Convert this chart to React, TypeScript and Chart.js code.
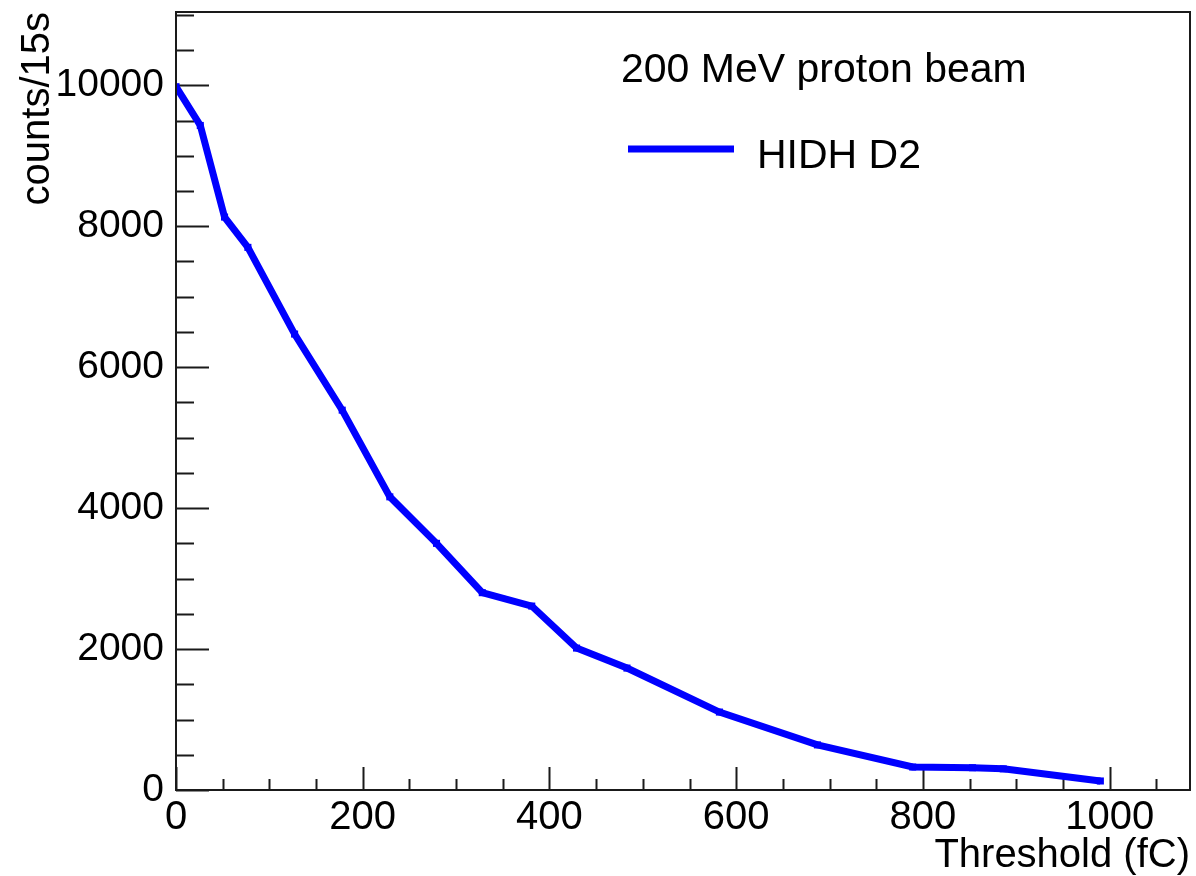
import React, { useEffect, useRef } from "react";
import { Chart, registerables } from "chart.js";

Chart.register(...registerables);

// ---- data ----
const thresholds = [0, 26, 52, 77, 127, 178, 229, 279, 328, 381, 429, 483, 582, 687, 789, 853, 886, 990];
const counts = [9980, 9430, 8130, 7700, 6470, 5390, 4160, 3500, 2800, 2610, 2014, 1730, 1106, 640, 326, 316, 300, 128];

const xMajorTicks = [0, 200, 400, 600, 800, 1000];
const yMajorTicks = [0, 2000, 4000, 6000, 8000, 10000];
const xMinorStep = 50;
const yMinorStep = 500;
const xMax = 1086;
const yMax = 11040;

const headerText = "200 MeV proton beam";
const seriesLabel = "HIDH D2";
const xTitle = "Threshold (fC)";
const yTitle = "counts/15s";

const FONT = "'Liberation Sans', Arial, Helvetica, sans-serif";
const BLUE = "#0000ff";

const rootStylePlugin = {
  id: "rootStyle",
  beforeDatasetsDraw(chart: any) {
    const { ctx, chartArea, scales } = chart;
    const xs = scales.x;
    const ys = scales.y;
    ctx.save();
    ctx.strokeStyle = "#1a1a1a";
    ctx.lineWidth = 2;
    ctx.beginPath();
    for (let v = 0; v <= xs.max + 1e-6; v += xMinorStep) {
      const px = Math.round(xs.getPixelForValue(v)) + 0.5;
      const major = xMajorTicks.includes(v);
      const len = major ? 23 : 11;
      ctx.moveTo(px, chartArea.bottom);
      ctx.lineTo(px, chartArea.bottom - len);
    }
    for (let v = 0; v <= ys.max + 1e-6; v += yMinorStep) {
      const py = Math.round(ys.getPixelForValue(v)) + 0.5;
      const major = yMajorTicks.includes(v);
      const len = major ? 33 : 18;
      ctx.moveTo(chartArea.left, py);
      ctx.lineTo(chartArea.left + len, py);
    }
    ctx.stroke();
    ctx.restore();
  },
  afterDraw(chart: any) {
    const { ctx, chartArea } = chart;
    ctx.save();
    ctx.strokeStyle = "#1a1a1a";
    ctx.lineWidth = 2;
    ctx.strokeRect(chartArea.left, chartArea.top, chartArea.right - chartArea.left, chartArea.bottom - chartArea.top);
    ctx.fillStyle = "#000";
    ctx.textBaseline = "alphabetic";
    ctx.textAlign = "left";
    ctx.font = `41px ${FONT}`;
    ctx.fillText(headerText, 621, 82);
    ctx.fillText(seriesLabel, 757, 168);
    ctx.strokeStyle = BLUE;
    ctx.lineWidth = 7;
    ctx.beginPath();
    ctx.moveTo(628, 149);
    ctx.lineTo(734, 149);
    ctx.stroke();
    ctx.restore();
  },
};

export default function App() {
  const canvasRef = useRef<HTMLCanvasElement | null>(null);

  useEffect(() => {
    document.body.style.margin = "0";
    const canvas = canvasRef.current;
    if (!canvas) return;
    const chart = new Chart(canvas, {
      type: "line",
      data: {
        datasets: [
          {
            label: seriesLabel,
            data: thresholds.map((x, i) => ({ x, y: counts[i] })),
            borderColor: BLUE,
            backgroundColor: BLUE,
            borderWidth: 7,
            pointRadius: 5,
            pointStyle: "rect",
            pointBorderWidth: 0,
            pointBackgroundColor: BLUE,
            tension: 0,
            fill: false,
          },
        ],
      },
      options: {
        animation: false,
        responsive: false,
        maintainAspectRatio: false,
        layout: { padding: { top: 12, right: 6, left: 0, bottom: 0 } },
        plugins: {
          legend: { display: false },
          tooltip: { enabled: false },
          title: { display: false },
        },
        scales: {
          x: {
            type: "linear",
            position: "bottom",
            min: 0,
            max: xMax,
            grid: { display: false },
            border: { display: false },
            afterBuildTicks: (s: any) => {
              s.ticks = xMajorTicks.map((v) => ({ value: v }));
            },
            ticks: {
              autoSkip: false,
              maxRotation: 0,
              padding: -4,
              color: "#000",
              font: { size: 40, family: FONT },
              callback: (v: any) => String(v),
            },
            title: {
              display: true,
              text: xTitle,
              align: "end",
              color: "#000",
              font: { size: 40, family: FONT, lineHeight: 1 },
              padding: 0,
            },
            afterFit: (s: any) => {
              s.height = 86;
            },
          },
          y: {
            type: "linear",
            min: 0,
            max: yMax,
            grid: { display: false },
            border: { display: false },
            afterBuildTicks: (s: any) => {
              s.ticks = yMajorTicks.map((v) => ({ value: v }));
            },
            ticks: {
              autoSkip: false,
              padding: 4,
              color: "#000",
              font: { size: 39, family: FONT, lineHeight: 0.05 },
              callback: (v: any) => String(v),
            },
            title: {
              display: true,
              text: yTitle,
              align: "end",
              color: "#000",
              font: { size: 40, family: FONT, lineHeight: 1.2 },
              padding: { top: 14, bottom: 0 },
            },
            afterFit: (s: any) => {
              s.width = 176;
            },
          },
        },
      } as any,
      plugins: [rootStylePlugin],
    });
    return () => chart.destroy();
  }, []);

  return (
    <div style={{ width: 1196, height: 876, background: "#fff" }}>
      <canvas ref={canvasRef} width={1196} height={876} style={{ display: "block" }} />
    </div>
  );
}
